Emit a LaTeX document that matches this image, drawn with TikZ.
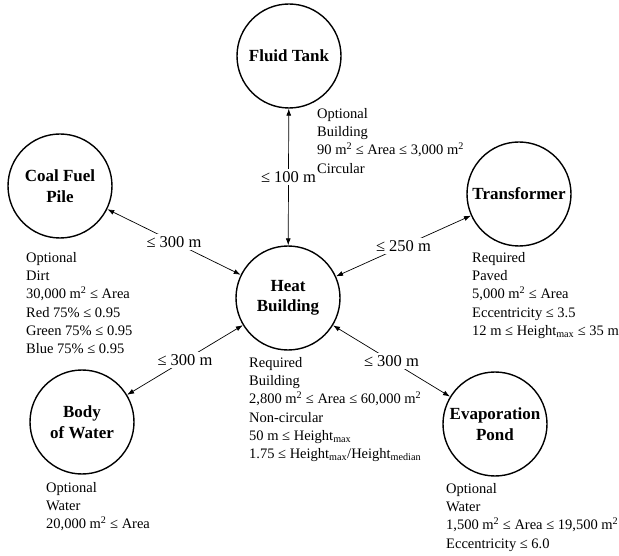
\documentclass[tikz,border=0pt]{standalone}
\usepackage{fontspec}
\setmainfont{Liberation Serif}
\usetikzlibrary{arrows.meta}

\begin{document}
\begin{tikzpicture}[x=1pt, y=-1pt,
  site/.style={circle, draw, line width=1.4pt, minimum size=104pt, inner sep=0pt,
    align=center, font=\fontsize{17}{20.5}\selectfont\bfseries},
  info/.style={anchor=north west, inner sep=0pt, align=left,
    font=\fontsize{14.5}{18.3}\selectfont},
  dist/.style={fill=white, inner sep=2pt, font=\fontsize{16.5}{19}\selectfont},
  link/.style={{Latex[length=7pt,width=5pt]}-{Latex[length=7pt,width=5pt]}, line width=0.7pt}]

\useasboundingbox (0, 0) rectangle (619, 556);

\node [site] (FT) at (289, 56) {Fluid Tank};
\node [site] (CF) at (60, 186) {Coal Fuel\\Pile};
\node [site] (HB) at (288, 298) {Heat\\Building};
\node [site] (TR) at (519, 194) {Transformer};
\node [site] (BW) at (82, 422) {Body\\of Water};
\node [site] (EP) at (495, 424) {Evaporation\\Pond};

\draw[link] (HB) -- node[dist] {≤ 100 m} (FT);
\draw[link] (HB) -- node[dist] {≤ 300 m} (CF);
\draw[link] (HB) -- node[dist] {≤ 250 m} (TR);
\draw[link] (HB) -- node[dist] {≤ 300 m} (BW);
\draw[link] (HB) -- node[dist] {≤ 300 m} (EP);

\node [info] (FTinfo) at (317, 108) {Optional\\Building\\90 m\textsuperscript{2} ≤ Area ≤ 3,000 m\textsuperscript{2}\\Circular};
\node [info] (CFinfo) at (26, 252) {Optional\\Dirt\\30,000 m\textsuperscript{2} ≤ Area\\Red 75\% ≤ 0.95\\Green 75\% ≤ 0.95\\Blue 75\% ≤ 0.95};
\node [info] (HBinfo) at (249, 357) {Required\\Building\\2,800 m\textsuperscript{2} ≤ Area ≤ 60,000 m\textsuperscript{2}\\Non-circular\\50 m ≤ Height\textsubscript{max}\\1.75 ≤ Height\textsubscript{max}/Height\textsubscript{median}};
\node [info] (TRinfo) at (472, 252) {Required\\Paved\\5,000 m\textsuperscript{2} ≤ Area\\Eccentricity ≤ 3.5\\12 m ≤ Height\textsubscript{max} ≤ 35 m};
\node [info] (BWinfo) at (46, 482) {Optional\\Water\\20,000 m\textsuperscript{2} ≤ Area};
\node [info] (EPinfo) at (446, 483) {Optional\\Water\\1,500 m\textsuperscript{2} ≤ Area ≤ 19,500 m\textsuperscript{2}\\Eccentricity ≤ 6.0};

\end{tikzpicture}
\end{document}
